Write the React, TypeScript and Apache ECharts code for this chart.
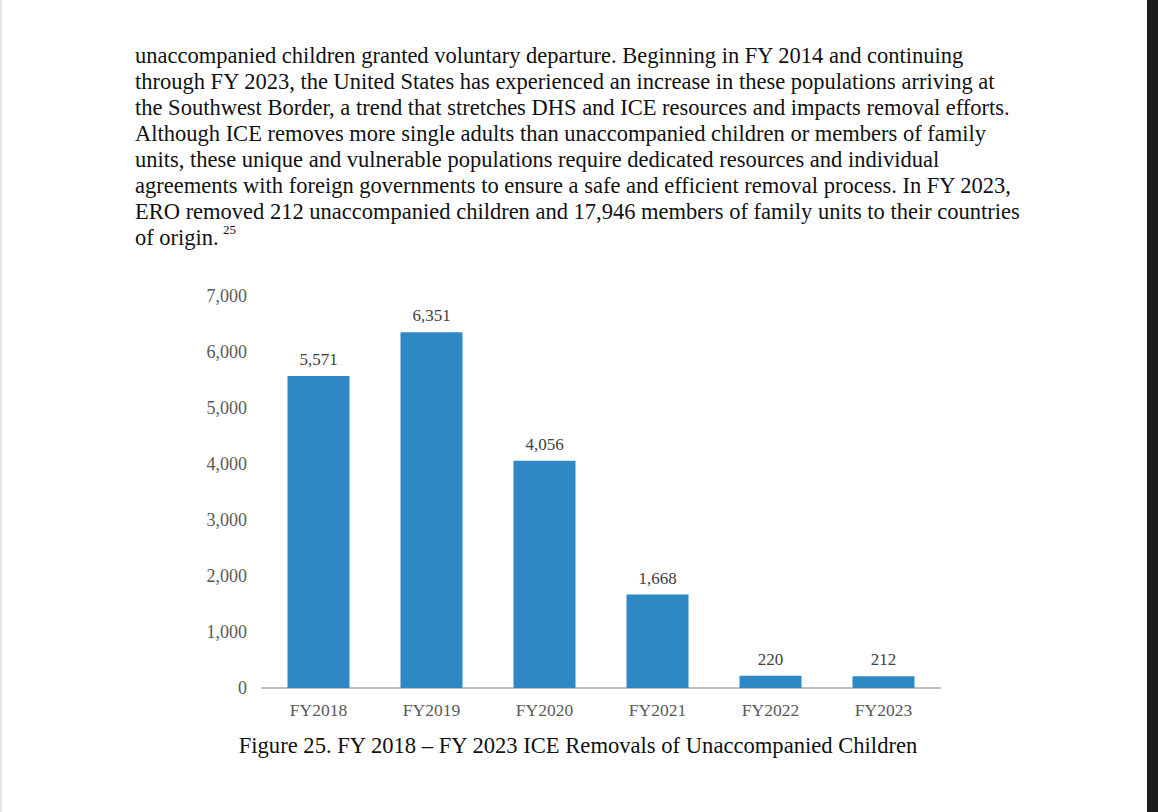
import React, { useEffect, useRef } from "react";
import * as echarts from "echarts";

const categories = ["FY2018", "FY2019", "FY2020", "FY2021", "FY2022", "FY2023"];
const removals = [5571, 6351, 4056, 1668, 220, 212];
const yTicks = { min: 0, max: 7000, interval: 1000 };

const paragraphLines = [
  "unaccompanied children granted voluntary departure. Beginning in FY 2014 and continuing",
  "through FY 2023, the United States has experienced an increase in these populations arriving at",
  "the Southwest Border, a trend that stretches DHS and ICE resources and impacts removal efforts.",
  "Although ICE removes more single adults than unaccompanied children or members of family",
  "units, these unique and vulnerable populations require dedicated resources and individual",
  "agreements with foreign governments to ensure a safe and efficient removal process. In FY 2023,",
  "ERO removed 212 unaccompanied children and 17,946 members of family units to their countries",
  "of origin.",
];
const footnote = "25";
const caption = "Figure 25. FY 2018 \u2013 FY 2023 ICE Removals of Unaccompanied Children";

const SERIF = "'Liberation Serif', 'Times New Roman', serif";
const fmt = (v: number) => v.toLocaleString("en-US");

export default function App() {
  const ref = useRef<HTMLDivElement>(null);
  useEffect(() => {
    if (!ref.current) return;
    const chart = echarts.init(ref.current, null, { renderer: "svg" });
    const lineTop = 55;
    const lineStep = 26;
    const graphics: any[] = [
      { type: "rect", shape: { x: 0, y: 0, width: 2, height: 812 }, style: { fill: "#e6e6e6" } },
      { type: "rect", shape: { x: 1147, y: 0, width: 11, height: 812 }, style: { fill: "#1c1c1c" } },
      ...paragraphLines.map((t, i) => ({
        type: "text",
        x: 135,
        y: lineTop + i * lineStep,
        style: { text: t, font: `22.5px ${SERIF}`, fill: "#111", verticalAlign: "middle", align: "left" },
      })),
      {
        type: "text",
        x: 223,
        y: lineTop + 7 * lineStep - 8,
        style: { text: footnote, font: `13px ${SERIF}`, fill: "#111", verticalAlign: "middle", align: "left" },
      },
      {
        type: "text",
        x: 578,
        y: 745,
        style: { text: caption, font: `22.6px ${SERIF}`, fill: "#111", verticalAlign: "middle", align: "center" },
      },
    ];
    chart.setOption({
      animation: false,
      backgroundColor: "#ffffff",
      grid: { left: 262, right: 218, top: 296, bottom: 124, containLabel: false },
      xAxis: {
        type: "category",
        data: categories,
        axisLine: { lineStyle: { color: "#bfbfbf", width: 2 } },
        axisTick: { show: false },
        axisLabel: { color: "#595959", fontFamily: SERIF, fontSize: 17.5, margin: 13 },
      },
      yAxis: {
        type: "value",
        min: yTicks.min,
        max: yTicks.max,
        interval: yTicks.interval,
        splitLine: { show: false },
        axisLine: { show: false },
        axisTick: { show: false },
        axisLabel: { color: "#595959", fontFamily: SERIF, fontSize: 18, margin: 15, formatter: (v: number) => fmt(v) },
      },
      series: [
        {
          type: "bar",
          data: removals,
          barWidth: 62,
          itemStyle: { color: "#2e88c4" },
          label: {
            show: true,
            position: "top",
            distance: 8,
            color: "#404040",
            fontFamily: SERIF,
            fontSize: 17,
            formatter: (p: any) => fmt(p.value),
          },
        },
      ],
      graphic: graphics,
    });
    return () => chart.dispose();
  }, []);
  return <div ref={ref} style={{ position: "fixed", left: 0, top: 0, width: 1158, height: 812 }} />;
}
